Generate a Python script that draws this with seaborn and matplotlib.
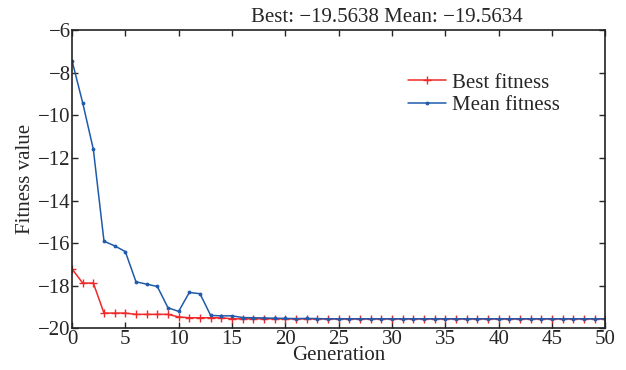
import numpy as np
import pandas as pd
import seaborn as sns
from matplotlib import pyplot as plt

# fitness per generation
generation = list(range(51))
best_fitness = [-17.21, -17.88, -17.88, -19.29, -19.29, -19.29, -19.35, -19.35, -19.35, -19.35,
                -19.47, -19.51, -19.51, -19.51, -19.51, -19.56, -19.56, -19.56, -19.56, -19.56,
                -19.56, -19.56, -19.56, -19.56, -19.56, -19.56, -19.56, -19.56, -19.56, -19.56,
                -19.56, -19.56, -19.56, -19.56, -19.56, -19.56, -19.56, -19.56, -19.56, -19.56,
                -19.56, -19.56, -19.56, -19.56, -19.56, -19.56, -19.56, -19.56, -19.56, -19.56,
                -19.5638]
mean_fitness = [-7.42, -9.40, -11.59, -15.91, -16.13, -16.40, -17.82, -17.93, -18.04, -19.04,
                -19.21, -18.32, -18.38, -19.40, -19.42, -19.42, -19.50, -19.51, -19.52, -19.53,
                -19.54, -19.55, -19.54, -19.55, -19.56, -19.56, -19.56, -19.56, -19.56, -19.56,
                -19.56, -19.56, -19.56, -19.56, -19.56, -19.56, -19.56, -19.56, -19.56, -19.56,
                -19.56, -19.56, -19.56, -19.56, -19.56, -19.56, -19.56, -19.56, -19.56, -19.56,
                -19.5634]
y_ticks = [-20, -18, -16, -14, -12, -10, -8, -6]
x_ticks = [0, 5, 10, 15, 20, 25, 30, 35, 40, 45, 50]

df = pd.DataFrame({'gen': generation, 'best': best_fitness, 'mean': mean_fitness})

sns.set_style('ticks')
plt.rcParams['font.family'] = ['Liberation Serif', 'DejaVu Serif']
plt.rcParams['xtick.direction'] = 'in'
plt.rcParams['ytick.direction'] = 'in'

fig = plt.figure(figsize=(6.26, 3.70), dpi=100)
ax = fig.add_axes([0.115, 0.113, 0.852, 0.805])

red = '#f02828'
blue = '#1f5aab'
sns.lineplot(data=df, x='gen', y='best', color=red, marker='+', markersize=6,
             markeredgewidth=1.0, markeredgecolor=red, linewidth=1.1,
             label='Best fitness', ax=ax)
sns.lineplot(data=df, x='gen', y='mean', color=blue, marker='.', markersize=4,
             markeredgecolor=blue, linewidth=1.1, label='Mean fitness', ax=ax)

ax.set_xlim(0, 50)
ax.set_ylim(-20, -6)
ax.set_xticks(x_ticks)
ax.set_yticks(y_ticks)
ax.set_yticklabels([str(t).replace('-', '\u2212') for t in y_ticks])
ax.tick_params(top=True, right=True, labelsize=15, length=4, width=1, pad=1)
for s in ax.spines.values():
    s.set_linewidth(1.2)
    s.set_color('#222222')

ax.set_xlabel('Generation', fontsize=15, labelpad=-2)
ax.set_ylabel('Fitness value', fontsize=15, labelpad=2)
ax.text(0.59, 1.012, 'Best: \u221219.5638 Mean: \u221219.5634', transform=ax.transAxes,
        ha='center', va='bottom', fontsize=15)

ax.legend(loc='upper right', bbox_to_anchor=(0.95, 0.92), frameon=False, fontsize=15,
          handlelength=1.8, handletextpad=0.3, labelspacing=0.15)

fig.savefig('out.png', dpi=100)
